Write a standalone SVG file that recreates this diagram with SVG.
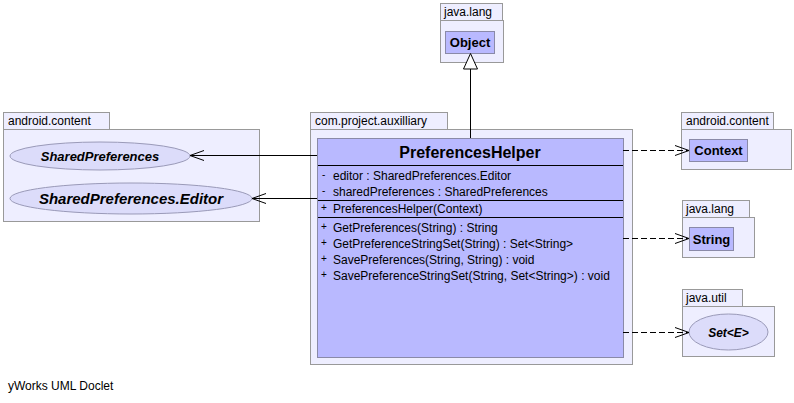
<svg xmlns="http://www.w3.org/2000/svg" width="794" height="403" viewBox="0 0 794 403">
<defs>
<style>
.pkg{fill:#eeeeff;stroke:#999999;stroke-width:1}
.cls{fill:#b9b9ff;stroke:#8a8aa8;stroke-width:1}
.ell{fill:#dcdcfa;stroke:#9a9ab8;stroke-width:1}
.sep{stroke:#000000;stroke-width:1}
.pl{font-family:"Liberation Sans",Arial,sans-serif;font-size:12px;fill:#000}
.nm{font-family:"Liberation Sans",Arial,sans-serif;font-size:13px;font-weight:bold;fill:#000}
.it{font-family:"Liberation Sans",Arial,sans-serif;font-weight:bold;font-style:italic;fill:#000}
.mb{font-family:"Liberation Sans",Arial,sans-serif;font-size:12px;fill:#000}
.vis{font-family:"Liberation Sans",Arial,sans-serif;font-size:10px;fill:#000}
.solid{stroke:#000;stroke-width:1;fill:none}
.dash{stroke:#000;stroke-width:1;fill:none;stroke-dasharray:6,3}
</style>
<marker id="open" markerWidth="16" markerHeight="12" refX="14" refY="6" orient="auto" markerUnits="userSpaceOnUse">
<path d="M0,1 L14,6 L0,11" fill="none" stroke="#000" stroke-width="1"/>
</marker>
</defs>
<rect x="0" y="0" width="794" height="403" fill="#ffffff"/>

<g id="pkg-java-lang-top">
<rect class="pkg" x="440.5" y="3.5" width="62" height="17"/>
<rect class="pkg" x="440.5" y="20.5" width="63" height="42"/>
<text class="pl" x="444" y="16">java.lang</text>
</g>
<g id="node-Object">
<rect class="cls" x="445.5" y="31.5" width="49" height="22"/>
<text class="nm" x="470" y="47" text-anchor="middle">Object</text>
</g>

<g id="pkg-android-content-left">
<rect class="pkg" x="3.5" y="112.5" width="106" height="17"/>
<rect class="pkg" x="3.5" y="129.5" width="256" height="92"/>
<text class="pl" x="8" y="125">android.content</text>
</g>
<g id="node-SharedPreferences">
<ellipse class="ell" cx="100" cy="156" rx="90" ry="14"/>
<text class="it" x="100" y="160.5" text-anchor="middle" font-size="13">SharedPreferences</text>
</g>
<g id="node-SharedPreferencesEditor">
<ellipse class="ell" cx="131" cy="198.5" rx="121" ry="15.5"/>
<text class="it" x="131" y="204" text-anchor="middle" font-size="15">SharedPreferences.Editor</text>
</g>

<g id="pkg-com-project-auxilliary">
<rect class="pkg" x="310.5" y="112.5" width="137" height="17"/>
<rect class="pkg" x="310.5" y="129.5" width="322" height="235"/>
<text class="pl" x="315" y="125">com.project.auxilliary</text>
</g>
<g id="node-PreferencesHelper">
<rect class="cls" x="317.5" y="138.5" width="306" height="219"/>
<text x="470" y="158" text-anchor="middle" font-family="'Liberation Sans',Arial,sans-serif" font-size="16" font-weight="bold">PreferencesHelper</text>
<line class="sep" x1="318" y1="165.5" x2="623" y2="165.5"/>
<text class="vis" x="322" y="178">-</text>
<text class="mb" x="333" y="180">editor : SharedPreferences.Editor</text>
<text class="vis" x="322" y="194">-</text>
<text class="mb" x="333" y="196">sharedPreferences : SharedPreferences</text>
<line class="sep" x1="318" y1="200.5" x2="623" y2="200.5"/>
<text class="vis" x="321" y="211">+</text>
<text class="mb" x="333" y="213">PreferencesHelper(Context)</text>
<line class="sep" x1="318" y1="217.5" x2="623" y2="217.5"/>
<text class="vis" x="321" y="230">+</text>
<text class="mb" x="333" y="232">GetPreferences(String) : String</text>
<text class="vis" x="321" y="246">+</text>
<text class="mb" x="333" y="248">GetPreferenceStringSet(String) : Set&lt;String&gt;</text>
<text class="vis" x="321" y="262">+</text>
<text class="mb" x="333" y="264">SavePreferences(String, String) : void</text>
<text class="vis" x="321" y="278">+</text>
<text class="mb" x="333" y="280">SavePreferenceStringSet(String, Set&lt;String&gt;) : void</text>
</g>

<g id="pkg-android-content-right">
<rect class="pkg" x="681.5" y="112.5" width="92" height="17"/>
<rect class="pkg" x="681.5" y="129.5" width="110" height="40"/>
<text class="pl" x="686" y="125">android.content</text>
</g>
<g id="node-Context">
<rect class="cls" x="689.5" y="139.5" width="58" height="22"/>
<text class="nm" x="718.5" y="155" text-anchor="middle">Context</text>
</g>

<g id="pkg-java-lang-right">
<rect class="pkg" x="682.5" y="200.5" width="67" height="17"/>
<rect class="pkg" x="682.5" y="217.5" width="72" height="40"/>
<text class="pl" x="686" y="213">java.lang</text>
</g>
<g id="node-String">
<rect class="cls" x="689.5" y="227.5" width="44" height="23"/>
<text class="nm" x="711.5" y="244" text-anchor="middle">String</text>
</g>

<g id="pkg-java-util">
<rect class="pkg" x="682.5" y="289.5" width="60" height="17"/>
<rect class="pkg" x="682.5" y="306.5" width="92" height="50"/>
<text class="pl" x="686" y="302">java.util</text>
</g>
<g id="node-SetE">
<ellipse class="ell" cx="728.5" cy="332" rx="39.5" ry="18"/>
<text class="it" x="728.5" y="336.5" text-anchor="middle" font-size="12">Set&lt;E&gt;</text>
</g>

<g id="connectors">
<line class="solid" x1="470.5" y1="138" x2="470.5" y2="69"/>
<polygon points="470.5,53.5 463.5,69 477.5,69" fill="#ffffff" stroke="#000" stroke-width="1"/>
<line class="solid" x1="317" y1="155.5" x2="190" y2="155.5" marker-end="url(#open)"/>
<line class="solid" x1="317" y1="198.5" x2="252" y2="198.5" marker-end="url(#open)"/>
<line class="dash" x1="623" y1="150.5" x2="689" y2="150.5" marker-end="url(#open)"/>
<line class="dash" x1="623" y1="238.5" x2="689" y2="238.5" marker-end="url(#open)"/>
<line class="dash" x1="623" y1="332.5" x2="689" y2="332.5" marker-end="url(#open)"/>
</g>

<text class="pl" x="8" y="390">yWorks UML Doclet</text>
</svg>
